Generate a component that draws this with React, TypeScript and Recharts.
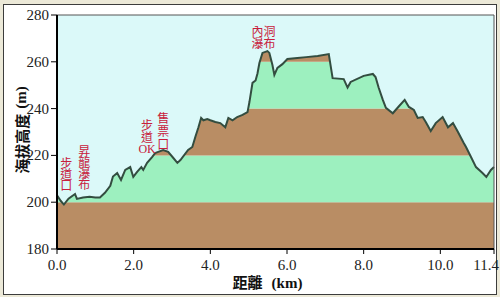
import { AreaChart, Area, XAxis, YAxis, ReferenceArea, ReferenceDot } from 'recharts';

// distance along the trail (km) and elevation (m)
const distKm = [
  0.0, 0.1, 0.18, 0.3, 0.47, 0.52, 0.68, 0.85, 1.0, 1.12, 1.25, 1.39, 1.46, 1.57, 1.67, 1.78, 1.91, 1.99,
  2.09, 2.2, 2.25, 2.35, 2.48, 2.56, 2.64, 2.77, 2.9, 3.03, 3.14, 3.22, 3.42, 3.53, 3.61, 3.69, 3.76, 3.82,
  3.92, 4.0, 4.13, 4.26, 4.39, 4.47, 4.58, 4.7, 4.84, 4.97, 5.02, 5.1, 5.18, 5.23, 5.28, 5.36, 5.49, 5.54,
  5.62, 5.67, 5.75, 5.88, 6.01, 6.27, 6.5, 6.8, 7.09, 7.19, 7.48, 7.58, 7.66, 8.0, 8.24, 8.31, 8.39, 8.5,
  8.58, 8.76, 8.92, 9.07, 9.18, 9.31, 9.41, 9.54, 9.62, 9.75, 9.88, 10.06, 10.2, 10.33, 10.46, 10.61, 10.67,
  10.8, 10.93, 11.1, 11.2, 11.32, 11.4,
];
const elevM = [
  203, 200.5, 199, 201.5, 203.5, 201.4, 202, 202.3, 202, 202, 204, 207, 211, 212.5, 209.5, 213.8, 215, 210.8,
  213, 215, 213.8, 216.8, 219.3, 221, 221.5, 222.3, 221.5, 219, 216.8, 218, 222.3, 223.6, 228, 232, 236, 235,
  235.5, 235, 234.3, 233.8, 232, 236, 235, 236.4, 237.3, 238.5, 242.8, 251, 252, 255, 259.5, 263.8, 264.6, 263.8,
  258.6, 254.4, 257.4, 259, 261.2, 261.6, 262, 262.5, 263.3, 253, 252.6, 249, 251.4, 254, 254.8, 253.5, 249, 243.7,
  240.3, 238, 241, 243.7, 240.7, 239.4, 236, 236.4, 234.3, 230.4, 233.8, 236.4, 232, 233.8, 230, 225.3, 223.6,
  219.3, 215, 212.5, 210.8, 213.8, 215,
];

const xTicks = [0, 2, 4, 6, 8, 10, 11.4];
const yTicks = [180, 200, 220, 240, 260, 280];
const bands = [
  { from: 180, to: 200, color: '#b98d64' },
  { from: 200, to: 220, color: '#9df0bf' },
  { from: 220, to: 240, color: '#b98d64' },
  { from: 240, to: 260, color: '#9df0bf' },
  { from: 260, to: 280, color: '#b98d64' },
];

// place names, anchored at the first line's centre
const places: { x: number; y: number; lines: string[]; step: number }[] = [
  { x: 0.24, y: 216.8, lines: ['步', '道', '口'], step: 11 },
  { x: 0.71, y: 221.9, lines: ['昇', '龍', '瀑', '布'], step: 11 },
  { x: 2.35, y: 233.4, lines: ['步', '道', 'OK'], step: 12.5 },
  { x: 2.77, y: 236, lines: ['售', '票', '口'], step: 13 },
  { x: 5.39, y: 273.2, lines: ['內洞', '瀑布'], step: 12 },
];

const data = distKm.map((d, i) => ({ dist: d, elev: elevM[i] }));

const serif = '"Liberation Serif", "Times New Roman", serif';
const cjk = '"Noto Sans CJK TC", "Liberation Serif", serif';

function XTick({ x, y, payload, index }: any) {
  // the last label (11.4) sits against the right edge
  const last = index === xTicks.length - 1;
  return (
    <text x={last ? x + 5 : x} y={y + 11} textAnchor={last ? 'end' : 'middle'} fontFamily={serif} fontSize={15} fill="#222">
      {Number(payload.value).toFixed(1)}
    </text>
  );
}

function YTick({ x, y, payload }: any) {
  return (
    <text x={x} y={y + 5} textAnchor="end" fontFamily={serif} fontSize={15} fill="#222">
      {payload.value}
    </text>
  );
}

function PlaceLabel({ viewBox, lines, step }: any) {
  const cx = viewBox.x + (viewBox.width || 0) / 2;
  const cy = viewBox.y + (viewBox.height || 0) / 2;
  return (
    <g>
      {lines.map((t: string, i: number) => (
        <text key={i} x={cx} y={cy + i * step} textAnchor="middle" dominantBaseline="central"
          fontFamily={t === 'OK' ? serif : cjk} fontSize={12} fill="#c8203c">{t}</text>
      ))}
    </g>
  );
}

export default function App() {
  return (
    <div style={{ position: 'absolute', left: 0, top: 0, width: 500, height: 297, background: '#ece9d8' }}>
      <div style={{ position: 'absolute', left: 3, top: 4, width: 492, height: 289, border: '1px solid #3c3c3c', background: '#fff' }} />
      <div style={{ position: 'absolute', left: 0, top: 0 }}>
        <AreaChart width={500} height={297} data={data} margin={{ top: 15, right: 6, left: 0, bottom: 0 }}>
          {bands.map((b, i) => (
            <ReferenceArea key={i} x1={0} x2={11.4} y1={b.from} y2={b.to} fill={b.color} fillOpacity={1} stroke="none" />
          ))}
          <Area type="linear" dataKey="elev" baseValue={280} fill="#dbf9f9" fillOpacity={1}
            stroke="#334d40" strokeWidth={2} isAnimationActive={false} dot={false} activeDot={false} />
          <ReferenceArea x1={0} x2={11.4} y1={180} y2={280} fill="none" stroke="#555" strokeWidth={1} />
          {places.map((p, i) => (
            <ReferenceDot key={i} x={p.x} y={p.y} r={0} fill="none" stroke="none"
              label={(props: any) => <PlaceLabel {...props} lines={p.lines} step={p.step} />} />
          ))}
          <XAxis dataKey="dist" type="number" domain={[0, 11.4]} ticks={xTicks} interval={0}
            height={48} tick={<XTick />} tickSize={5} tickMargin={5}
            axisLine={{ stroke: '#000', strokeWidth: 2 }} tickLine={{ stroke: '#000' }}
            label={({ viewBox }: any) => (
              <text x={viewBox.x + viewBox.width / 2 - 8} y={viewBox.y + 39} textAnchor="middle" fill="#111">
                <tspan fontFamily={cjk} fontWeight="bold" fontSize={15}>距離</tspan>
                <tspan fontFamily={serif} fontWeight="bold" fontSize={15} dx={9}>(km)</tspan>
              </text>
            )} />
          <YAxis type="number" domain={[180, 280]} ticks={yTicks} interval={0} width={57} tick={<YTick />}
            tickSize={6} tickMargin={2} axisLine={{ stroke: '#000', strokeWidth: 2 }} tickLine={{ stroke: '#000' }}
            label={({ viewBox }: any) => {
              const x = 21;
              const y = viewBox.y + viewBox.height / 2 - 2;
              return (
                <text x={x} y={y} transform={`rotate(-90 ${x} ${y})`} textAnchor="middle" dominantBaseline="central" fill="#111">
                  <tspan fontFamily={cjk} fontWeight="bold" fontSize={15}>海拔高度</tspan>
                  <tspan fontFamily={serif} fontWeight="bold" fontSize={15} dx={5}>(m)</tspan>
                </text>
              );
            }} />
        </AreaChart>
      </div>
    </div>
  );
}
